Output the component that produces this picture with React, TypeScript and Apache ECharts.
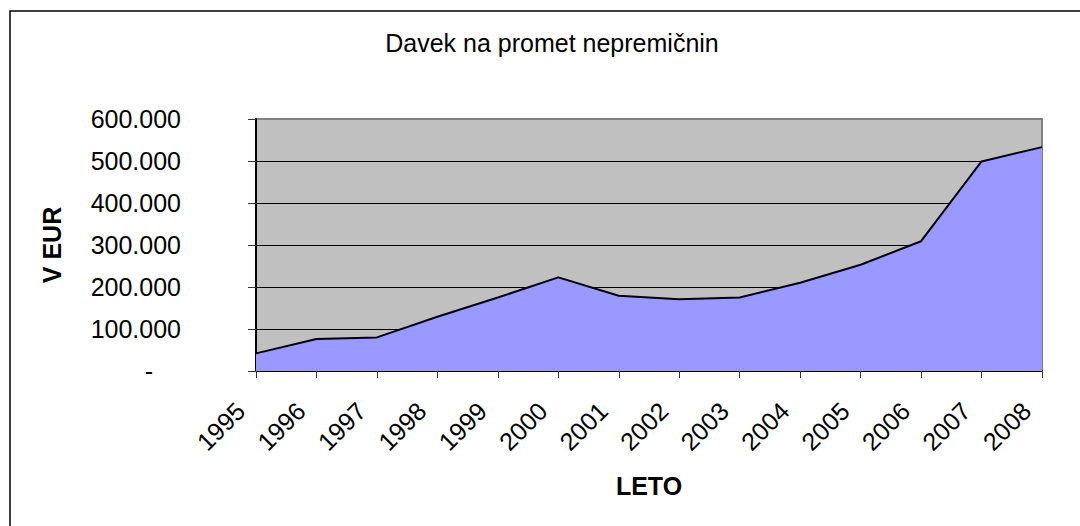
import React, { useEffect, useRef } from "react";
import * as echarts from "echarts";

const years = ["1995", "1996", "1997", "1998", "1999", "2000", "2001", "2002", "2003", "2004", "2005", "2006", "2007", "2008"];
const values = [42000, 76000, 80000, 129000, 175000, 223000, 179000, 171000, 175000, 210000, 253000, 309000, 499000, 533000];
const chartTitle = "Davek na promet nepremičnin";
const yName = "V EUR";
const xName = "LETO";

const FONT = "'Liberation Sans', Arial, sans-serif";

function fmt(v: number): string {
  if (v === 0) return "{z|-}";
  return String(Math.round(v)).replace(/\B(?=(\d{3})+(?!\d))/g, ".");
}

export default function App() {
  const ref = useRef<HTMLDivElement>(null);
  useEffect(() => {
    if (!ref.current) return;
    const chart = echarts.init(ref.current, null, { renderer: "svg" });
    chart.setOption({
      animation: false,
      backgroundColor: "#ffffff",
      textStyle: { fontFamily: FONT },
      graphic: [
        {
          type: "rect",
          shape: { x: 10, y: 11, width: 1100, height: 600 },
          style: { fill: "none", stroke: "#000", lineWidth: 1.5 },
          z: 0,
        },
        {
          type: "text",
          x: 552,
          y: 43,
          style: {
            text: chartTitle,
            font: `25px ${FONT}`,
            fill: "#000",
            textAlign: "center",
            textVerticalAlign: "middle",
          },
        },
      ],
      grid: {
        left: 256,
        right: 38,
        top: 119,
        bottom: 155,
        show: true,
        backgroundColor: "#C0C0C0",
        borderColor: "#808080",
        borderWidth: 2,
      },
      xAxis: {
        type: "category",
        data: years,
        boundaryGap: false,
        name: xName,
        nameLocation: "middle",
        nameGap: 102,
        nameTextStyle: { fontSize: 25, fontWeight: "bold", color: "#000", fontFamily: FONT },
        axisLine: { lineStyle: { color: "#000", width: 2 } },
        axisTick: { show: true, length: 7, inside: false, lineStyle: { color: "#333", width: 1 } },
        axisLabel: {
          rotate: 45,
          margin: 20,
          padding: [0, 22, 0, 0],
          fontSize: 25,
          color: "#000",
          fontFamily: FONT,
          interval: 0,
        },
      },
      yAxis: {
        type: "value",
        min: 0,
        max: 600000,
        interval: 100000,
        name: yName,
        nameLocation: "middle",
        nameRotate: 90,
        nameGap: 192,
        nameTextStyle: { fontSize: 25, fontWeight: "bold", color: "#000", fontFamily: FONT },
        axisLine: { show: true, lineStyle: { color: "#000", width: 2 } },
        axisTick: { show: true, length: 8, inside: false, lineStyle: { color: "#333", width: 1 } },
        axisLabel: {
          margin: 75,
          fontSize: 25,
          color: "#000",
          fontFamily: FONT,
          formatter: fmt,
          rich: { z: { fontSize: 25, fontFamily: FONT, color: "#000", padding: [0, 28, 0, 0] } },
        },
        splitLine: { show: true, showMaxLine: false, showMinLine: false, lineStyle: { color: "#000", width: 1 } },
      },
      series: [
        {
          type: "line",
          data: values,
          showSymbol: false,
          symbol: "none",
          lineStyle: { color: "#000", width: 2 },
          areaStyle: { color: "#9999FF", opacity: 1 },
          itemStyle: { color: "#9999FF" },
        },
      ],
    });
    return () => chart.dispose();
  }, []);
  return <div ref={ref} style={{ position: "fixed", left: 0, top: 0, width: 1080, height: 526 }} />;
}
